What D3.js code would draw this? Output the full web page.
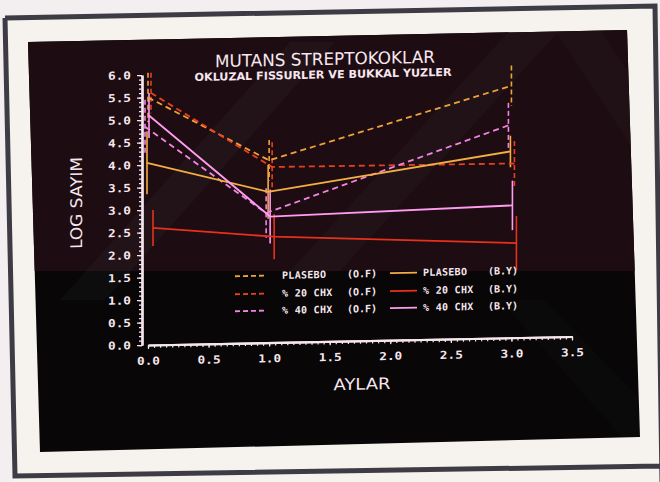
<!DOCTYPE html>
<meta charset="utf-8">
<style>
body { margin: 0; background: #f3eff0; }
svg text { font-family: "DejaVu Sans Mono", monospace; fill: #f7e6ef; }
.axis .domain, .axis line { stroke: #f7e6ef; }
</style>
<svg width="660" height="482"></svg>
<script src="https://d3js.org/d3.v7.min.js"></script>
<script>

// months on the x axis
var months = [0, 1, 3];
var xTicks = [0, 0.5, 1, 1.5, 2, 2.5, 3, 3.5];
var yTicks = [0, 0.5, 1, 1.5, 2, 2.5, 3, 3.5, 4, 4.5, 5, 5.5, 6];

var groups = ["PLASEBO", "% 20 CHX", "% 40 CHX"];
var sites = ["(O.F)", "(B.Y)"];

// log counts (mean) and spread
var plaseboOF = [5.5, 4.05, 5.6],  plaseboOFsd = [0.55, 0.45, 0.45];
var chx20OF   = [5.6, 3.9, 3.87],  chx20OFsd   = [0.45, 0.55, 0.5];
var chx40OF   = [4.85, 2.88, 4.72], chx40OFsd  = [0.6, 0.55, 0.5];
var plaseboBY = [4.05, 3.35, 4.14], plaseboBYsd = [0.7, 0.6, 0.35];
var chx20BY   = [2.6, 2.35, 2.1],  chx20BYsd   = [0.4, 0.5, 0.6];
var chx40BY   = [5.1, 2.8, 2.94],  chx40BYsd   = [0.5, 0.6, 0.55];

var series = [
  {name: groups[0], site: sites[0], values: plaseboOF, sd: plaseboOFsd, color: "#f0a23a", dashed: true,  off: 0},
  {name: groups[1], site: sites[0], values: chx20OF,   sd: chx20OFsd,   color: "#e8401e", dashed: true,  off: 3},
  {name: groups[2], site: sites[0], values: chx40OF,   sd: chx40OFsd,   color: "#f284e4", dashed: true,  off: -3},
  {name: groups[0], site: sites[1], values: plaseboBY, sd: plaseboBYsd, color: "#f5ae42", dashed: false, off: -1},
  {name: groups[1], site: sites[1], values: chx20BY,   sd: chx20BYsd,   color: "#e6321c", dashed: false, off: 5},
  {name: groups[2], site: sites[1], values: chx40BY,   sd: chx40BYsd,   color: "#ff9cf2", dashed: false, off: 1}
];

var svg = d3.select("svg");

// photo frame
svg.append("polygon")
    .attr("points", "5,18 655,6 662,482 14,482")
    .attr("fill", "#f6f2ee");
svg.append("path")
    .attr("d", "M5,18 L655,6 L662,482 M5,18 L15,476 L662,466")
    .attr("fill", "none")
    .attr("stroke", "#3d3c44")
    .attr("stroke-width", 5);

// slide
svg.append("clipPath").attr("id", "slide")
  .append("polygon").attr("points", "28,42 627,30 640,437 40,452");
var slide = svg.append("g").attr("clip-path", "url(#slide)");
slide.append("rect").attr("x", 0).attr("y", 0).attr("width", 660).attr("height", 482).attr("fill", "#080606");
slide.append("rect").attr("x", 0).attr("y", 0).attr("width", 660).attr("height", 271).attr("fill", "#1d0c11");
// faint watermark stripes
[["60,300 105,300 335,42 290,42", 0.06],
 ["290,271 340,271 560,30 510,30", 0.05],
 ["555,30 600,30 660,120 660,190", 0.04],
 ["500,300 545,300 660,420 660,480", 0.03]].forEach(function(b) {
  slide.append("polygon").attr("points", b[0]).attr("fill", "#7a9096").attr("opacity", b[1]);
});

// chart, slightly tilted like the photo
var g = svg.append("g").attr("transform", "translate(0,2.97) skewY(-1.15)");

var x = d3.scaleLinear().domain([0, 3.5]).range([148, 572]);
var y = d3.scaleLinear().domain([0, 6]).range([345, 75]);

g.append("text")
    .attr("x", 325).attr("y", 68.5)
    .attr("text-anchor", "middle")
    .style("font-family", "DejaVu Sans")
    .attr("font-size", 17)
    .attr("textLength", 220).attr("lengthAdjust", "spacingAndGlyphs")
    .text("MUTANS STREPTOKOKLAR");

g.append("text")
    .attr("x", 323).attr("y", 82)
    .attr("text-anchor", "middle")
    .style("font-family", "DejaVu Sans")
    .attr("font-weight", "bold")
    .attr("font-size", 11)
    .attr("textLength", 257).attr("lengthAdjust", "spacingAndGlyphs")
    .text("OKLUZAL FISSURLER VE BUKKAL YUZLER");

// axes
g.append("g").attr("class", "axis")
    .attr("transform", "translate(142,0)")
    .call(d3.axisLeft(y).tickValues(yTicks).tickSize(5).tickSizeOuter(0).tickPadding(6)
      .tickFormat(d3.format(".1f")));
g.append("g").attr("class", "axis")
    .attr("transform", "translate(142,0)")
    .call(d3.axisLeft(y).tickValues(d3.range(0, 6.001, 0.1)).tickSize(3).tickSizeOuter(0).tickFormat(""));

g.append("g").attr("class", "axis")
    .attr("transform", "translate(0,345)")
    .call(d3.axisBottom(x).tickValues(xTicks).tickSize(4).tickSizeOuter(0).tickPadding(8)
      .tickFormat(d3.format(".1f")));
g.append("g").attr("class", "axis")
    .attr("transform", "translate(0,345)")
    .call(d3.axisBottom(x).tickValues(d3.range(0, 3.501, 0.05)).tickSize(3).tickSizeOuter(0).tickFormat(""));

g.selectAll(".axis .domain").attr("stroke-width", 2.2);
g.selectAll(".axis line").attr("stroke-width", 1.2);
g.selectAll(".axis text")
    .attr("font-size", 11)
    .attr("font-weight", "bold")
    .attr("textLength", 23).attr("lengthAdjust", "spacingAndGlyphs")
    .attr("fill", "#f7e6ef");

g.append("text")
    .attr("transform", "translate(82,201.5) rotate(-90)")
    .attr("text-anchor", "middle")
    .style("font-family", "DejaVu Sans")
    .attr("font-size", 16)
    .attr("textLength", 92).attr("lengthAdjust", "spacingAndGlyphs")
    .text("LOG SAYIM");

g.append("text")
    .attr("x", 362).attr("y", 394)
    .attr("text-anchor", "middle")
    .style("font-family", "DejaVu Sans")
    .attr("font-size", 16)
    .attr("textLength", 57).attr("lengthAdjust", "spacingAndGlyphs")
    .text("AYLAR");

// error bars
series.forEach(function(s) {
  g.append("g").selectAll("line")
    .data(months)
    .enter().append("line")
      .attr("x1", function(m) { return x(m) + s.off; })
      .attr("x2", function(m) { return x(m) + s.off; })
      .attr("y1", function(m, i) { return y(s.values[i] + s.sd[i]); })
      .attr("y2", function(m, i) { return y(s.values[i] - s.sd[i]); })
      .attr("stroke", s.color)
      .attr("stroke-width", 1.6)
      .attr("stroke-dasharray", s.dashed ? "5,3" : null);
});

// mean lines
var line = d3.line();
series.forEach(function(s) {
  g.append("path")
    .datum(months.map(function(m, i) { return [x(m) + s.off, y(s.values[i])]; }))
    .attr("d", line)
    .attr("fill", "none")
    .attr("stroke", s.color)
    .attr("stroke-width", 1.8)
    .attr("stroke-dasharray", s.dashed ? "6,4" : null);
});

// legend
var rowY = [278, 296, 313];
var legend = g.append("g")
    .attr("font-size", 10)
    .attr("font-weight", "bold")
  .selectAll("g")
  .data(series)
  .enter().append("g")
    .attr("transform", function(d, i) {
      return "translate(" + (i < 3 ? 235 : 390) + "," + rowY[i % 3] + ")";
    });

legend.append("line")
    .attr("x1", 0).attr("x2", function(d) { return d.dashed ? 30 : 27; })
    .attr("stroke", function(d) { return d.color; })
    .attr("stroke-width", 1.8)
    .attr("stroke-dasharray", function(d) { return d.dashed ? "5,3" : null; });

legend.append("text")
    .attr("x", function(d) { return d.dashed ? 47 : 33; })
    .attr("y", 3.5)
    .attr("letter-spacing", 0.3)
    .text(function(d) { return d.name; });

legend.append("text")
    .attr("x", function(d) { return d.dashed ? 112 : 98; })
    .attr("y", 3.5)
    .text(function(d) { return d.site; });

</script>
